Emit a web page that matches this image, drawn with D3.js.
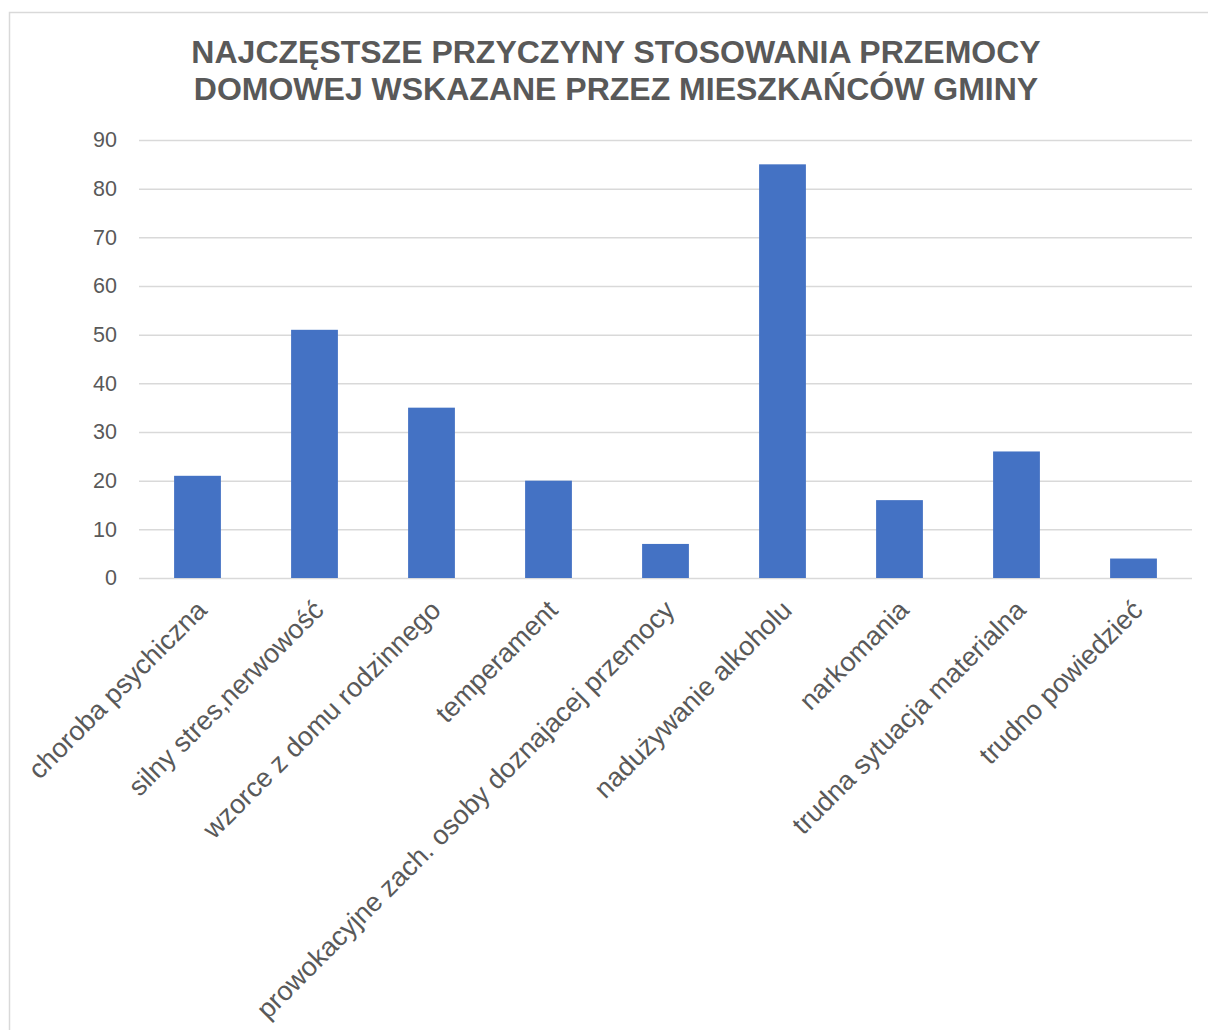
<!DOCTYPE html>
<html>
<meta charset="utf-8">
<script src="https://d3js.org/d3.v7.js"></script>
<style>
  body { margin: 0; background: #fff; }
  text { font-family: "Liberation Sans", Arial, sans-serif; }
</style>
<body>
<div id="my_dataviz"></div>
<script type="text/javascript">
  // data
  var categories = [
    "choroba psychiczna",
    "silny stres,nerwowość",
    "wzorce z domu rodzinnego",
    "temperament",
    "prowokacyjne zach. osoby doznajacej przemocy",
    "nadużywanie alkoholu",
    "narkomania",
    "trudna sytuacja materialna",
    "trudno powiedzieć"
  ]
  var values = [21, 51, 35, 20, 7, 85, 16, 26, 4]
  var yTicks = [0, 10, 20, 30, 40, 50, 60, 70, 80, 90]
  var titleLines = [
    "NAJCZĘSTSZE PRZYCZYNY STOSOWANIA PRZEMOCY",
    "DOMOWEJ WSKAZANE PRZEZ MIESZKAŃCÓW GMINY"
  ]

  var W = 1208, H = 1030
  var svg = d3.select("#my_dataviz")
    .append("svg")
      .attr("width", W)
      .attr("height", H)

  // chart frame (runs off the right and bottom edge)
  svg.append("rect")
    .attr("x", 9.5).attr("y", 12.5)
    .attr("width", 1220).attr("height", 1040)
    .attr("fill", "#fff")
    .attr("stroke", "#d9d9d9")
    .attr("stroke-width", 1.5)

  var plot = {left: 139, right: 1192, top: 140, bottom: 578}

  var x = d3.scaleBand()
    .domain(categories)
    .range([plot.left, plot.right])
    .paddingInner(0.6)
    .paddingOuter(0.3)

  var y = d3.scaleLinear()
    .domain([0, 90])
    .range([plot.bottom, plot.top])

  // title
  svg.append("g").selectAll("text")
    .data(titleLines)
    .enter()
    .append("text")
      .attr("x", 616)
      .attr("y", (d, i) => 63 + i * 37)
      .attr("text-anchor", "middle")
      .attr("font-size", "32px")
      .attr("font-weight", "bold")
      .attr("fill", "#595959")
      .text(d => d)

  // gridlines + y labels
  var yAxis = svg.append("g")
    .attr("transform", "translate(" + plot.left + ",0)")
    .call(d3.axisLeft(y).tickValues(yTicks)
      .tickSize(-(plot.right - plot.left)).tickPadding(22))
  yAxis.select(".domain").remove()
  yAxis.selectAll(".tick line")
    .attr("stroke", "#d9d9d9")
    .attr("stroke-width", 1.5)
  yAxis.selectAll(".tick text")
    .attr("font-size", "21.5px")
    .attr("fill", "#595959")
    .style("font-family", "'Liberation Sans', Arial, sans-serif")

  // bars
  svg.selectAll(".bar")
    .data(values)
    .enter()
    .append("rect")
      .attr("class", "bar")
      .attr("x", (d, i) => x(categories[i]))
      .attr("y", d => y(d))
      .attr("width", x.bandwidth())
      .attr("height", d => y(0) - y(d))
      .attr("fill", "#4472c4")

  // x labels
  var xAxis = svg.append("g")
    .attr("transform", "translate(0," + plot.bottom + ")")
    .call(d3.axisBottom(x).tickSize(0).tickPadding(0))
  xAxis.select(".domain").remove()
  xAxis.selectAll(".tick text")
    .attr("font-size", "27px")
    .attr("fill", "#595959")
    .style("font-family", "'Liberation Sans', Arial, sans-serif")
    .attr("text-anchor", "end")
    .attr("y", 0)
    .attr("dy", "0.72em")
    .attr("transform", "translate(-3,20) rotate(-45)")
</script>
</body>
</html>
